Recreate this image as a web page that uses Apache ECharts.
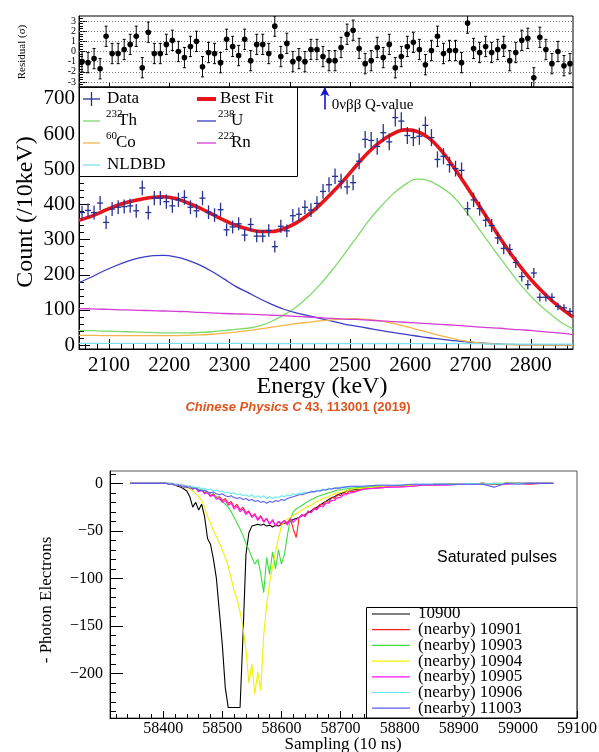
<!DOCTYPE html>
<html>
<head>
<meta charset="utf-8">
<title>Background fit and saturated pulses</title>
<script src="https://cdn.jsdelivr.net/npm/echarts@6.0.0/dist/echarts.min.js"></script>
<style>html,body{margin:0;padding:0;background:#fff;}#chart{width:599px;height:752px;}</style>
</head>
<body>
<div id="chart"></div>
<script>
// ================= TOP FIGURE : energy spectrum fit =================
// bin centres (keV) shared by data points and residuals
const binEnergy = [
  2055,2065,2075,2085,2095,2105,2115,2125,2135,2145,
  2155,2165,2175,2185,2195,2205,2215,2225,2235,2245,
  2255,2265,2275,2285,2295,2305,2315,2325,2335,2345,
  2355,2365,2375,2385,2395,2405,2415,2425,2435,2445,
  2455,2465,2475,2485,2495,2505,2515,2525,2535,2545,
  2555,2565,2575,2585,2595,2605,2615,2625,2635,2645,
  2655,2665,2675,2685,2695,2705,2715,2725,2735,2745,
  2755,2765,2775,2785,2795,2805,2815,2825,2835,2845,
  2855,2865];
const dataCount = [
  377,383,377,404,349,387,392,394,396,382,
  447,377,418,418,408,396,413,420,392,382,
  418,378,370,385,328,336,345,313,343,310,
  310,326,280,338,325,368,372,392,384,403,
  437,456,480,466,450,462,523,585,582,565,
  604,578,647,637,596,590,594,625,590,528,
  537,513,502,497,388,413,388,355,340,305,
  275,272,235,195,172,205,136,136,136,110,
  106,96];
const residual = [
  -1.0,-1.1,-0.7,-1.7,1.5,-0.2,-0.2,0.2,0.7,1.5,
  -1.6,1.9,-0.2,-0.2,0.7,1.1,0.0,-0.6,0.5,1.0,
  -1.5,-0.1,-0.2,-1.1,1.2,0.5,-0.4,1.2,-0.9,0.7,
  0.7,-0.2,2.5,-0.5,0.8,-1.0,-0.7,-1.0,0.2,0.2,
  -0.5,-0.9,-0.9,0.4,1.7,2.1,0.3,-1.2,-0.9,0.4,
  -0.6,0.7,-1.6,-0.5,0.5,0.9,0.2,-1.3,0.1,1.5,
  -0.2,0.1,0.1,-1.1,2.8,0.3,-0.1,0.5,-0.1,0.2,
  0.5,-0.9,-0.1,1.1,1.3,-2.6,1.4,0.2,-1.2,0.0,
  -1.4,-1.2];

// fit curves sampled every 20 keV
const fitEnergy = [2050,2070,2090,2110,2130,2150,2170,2190,2210,2230,2250,2270,2290,2310,2330,2350,2370,2390,2410,2430,2450,2470,2490,2510,2530,2550,2570,2590,2610,2630,2650,2670,2690,2710,2730,2750,2770,2790,2810,2830,2850,2870];
const bestFit = [355,366,381,395,406,414,420,422,417,405,390,373,356,341,330,323,323,331,347,370,399,433,470,510,548,578,600,612,608,590,556,511,460,408,355,302,252,207,168,134,105,80];
const th232  = [42,41,40,39,38,37,36,35,35,35,36,38,41,45,48,55,68,86,108,137,172,213,258,304,352,392,428,455,472,468,450,425,385,340,292,246,200,158,122,92,65,46];
const u238   = [178,193,210,225,238,248,254,255,251,242,228,210,189,167,150,132,116,102,92,84,76,68,60,54,48,42,36,31,26,21,17,13,10,7,5,3,2,1,1,0,0,0];
const co60   = [28,28,27,27,27,27,27,27,27,28,29,31,34,37,41,46,51,56,61,65,69,72,74,75,73,69,62,54,45,36,27,19,12,7,4,2,1,1,0,0,0,0];
const rn222  = [104,103,102,101,100,99,98,97,96,95,93,92,90,89,88,87,85,84,82,80,78,76,74,73,71,69,67,65,63,61,59,57,55,52,50,48,45,43,40,37,34,30];
const nldbd  = [5,5,5,5,5,5,5,5,5,5,5,5,5,5,5,4,4,4,4,4,4,4,4,4,4,4,4,4,4,4,4,4,4,4,3,3,3,3,3,3,3,3];

const energyTicks = [2100,2200,2300,2400,2500,2600,2700,2800];
const countTicks = [0,100,200,300,400,500,600,700];
const residualTicks = [-3,-2,-1,0,1,2,3];
const qValueEnergy = 2458;
const qArrow = [670, 733];

// ================= BOTTOM FIGURE : saturated pulses =================
const pulseSample = [58344,
  58400,58405,58410,58415,58420,58425,58430,58435,58440,58445,58450,58455,58460,58465,58470,
  58475,58480,58485,58490,58495,58500,58505,58510,58515,58520,58525,58530,58535,58540,58545,
  58550,58555,58560,58565,58570,58575,58580,58585,58590,58595,58600,58605,58610,58615,58620,
  58625,58630,58635,58640,58645,58650,58655,58660,58665,58670,58675,58680,58685,58690,58695,
  58700,58705,58710,58715,58720,
  58740,58760,58780,58800,58820,58840,58860,58880,58900,58920,58940,58960,58980,59000,59020,59040,59060];
const pulse10900 = [0,
  0,0,-1,-1,-2, -3,-4,-6,-8,-14, -25,-20,-28,-22,-35, -58,-64,-80,-100,-135,
  -170,-215,-236,-236,-236, -236,-236,-160,-75,-52, -45,-44,-43,-44,-43, -45,-44,-46,-44,-45,
  -43,-42,-41,-40,-38, -37,-36,-34,-33,-31, -29,-27,-25,-23,-21, -19,-17,-15,-14,-12, -11,-10,-8,-7,-7,
  -5,-4,-3,-3,-2,-2,-1,-1,-1,-1,0,-1,0,0,0,0,0];
const pulse10901 = [0,
  0,0,0,-1,-1, -2,-1,-3,-4,-3, -6,-5,-8,-7,-10, -9,-13,-11,-15,-14,
  -18,-16,-21,-19,-25, -22,-28,-25,-31,-29, -35,-32,-38,-34,-40, -37,-43,-39,-45,-40,
  -44,-39,-42,-37,-48, -57,-36,-33,-35,-29, -31,-26,-27,-22,-23, -19,-20,-15,-16,-12, -13,-10,-11,-8,-9,
  -6,-5,-4,-3,-3,-2,-2,-1,-1,-1,0,-1,0,0,-1,0,0];
const pulse10903 = [0,
  0,0,0,0,-1, -1,-2,-2,-3,-3, -4,-5,-6,-7,-8, -10,-11,-13,-14,-17,
  -19,-22,-25,-30,-36, -42,-48,-55,-63,-70, -78,-85,-80,-95,-115, -78,-96,-72,-90,-70,
  -85,-75,-55,-38,-30, -27,-25,-23,-21,-19, -17,-16,-14,-13,-12, -11,-10,-9,-8,-7, -7,-6,-6,-5,-5,
  -4,-3,-3,-2,-2,-2,-1,-1,-1,-1,0,-1,0,0,0,0,0];
const pulse10904 = [0,
  0,0,-1,-1,-2, -2,-3,-4,-5,-6, -8,-11,-14,-18,-25, -35,-42,-50,-56,-63,
  -70,-78,-87,-100,-113, -122,-135,-152,-175,-210, -190,-222,-198,-218,-160, -128,-105,-88,-72,-58,
  -45,-40,-38,-36,-34, -32,-30,-28,-26,-24, -23,-21,-19,-18,-16, -15,-14,-12,-11,-10, -9,-8,-8,-7,-6,
  -5,-4,-3,-3,-2,-2,-2,-1,-1,-1,-1,0,0,0,0,0,0];
const pulse10905 = [0,
  0,0,-1,0,-2, -1,-3,-2,-4,-3, -6,-5,-9,-7,-11, -10,-14,-12,-17,-15,
  -20,-18,-23,-21,-27, -24,-30,-27,-33,-30, -36,-33,-39,-35,-41, -37,-43,-38,-45,-40,
  -42,-39,-44,-37,-41, -38,-36,-33,-35,-30, -31,-27,-28,-24,-25, -21,-21,-18,-18,-15, -15,-12,-12,-10,-10,
  -6,-5,-4,-4,-3,-2,-2,-2,-1,-1,-1,0,-1,0,0,0,0];
const pulse10906 = [0,
  0,0,0,-1,-1, -2,-1,-3,-2,-4, -3,-5,-4,-6,-5, -7,-6,-8,-7,-9,
  -8,-10,-9,-11,-10, -12,-11,-13,-12,-14, -12,-15,-13,-15,-13, -16,-14,-16,-14,-15,
  -13,-14,-12,-13,-11, -12,-10,-11,-9,-10, -8,-9,-7,-8,-6, -7,-5,-6,-5,-5, -4,-4,-3,-4,-3,
  -3,-2,-2,-2,-1,-1,-1,-1,-1,0,-1,0,0,0,0,0,0];
const pulse11003 = [0,
  0,0,-1,-1,-2, -2,-3,-4,-4,-5, -6,-5,-7,-8,-7, -9,-10,-9,-11,-12,
  -11,-13,-14,-13,-15, -16,-15,-17,-16,-18, -17,-19,-18,-20,-19, -21,-19,-20,-18,-19,
  -17,-18,-16,-15,-14, -13,-12,-12,-11,-10, -9,-9,-8,-8,-7, -7,-6,-6,-5,-5, -5,-4,-4,-3,-3,
  -3,-2,-2,-2,-1,-1,-1,-1,-1,-1,-1,-4,0,-1,0,0,0];
const pulseNames = ['10900','(nearby) 10901','(nearby) 10903','(nearby) 10904','(nearby) 10905','(nearby) 10906','(nearby) 11003'];
const pulseValues = [pulse10900,pulse10901,pulse10903,pulse10904,pulse10905,pulse10906,pulse11003];
const sampleTicks = [58400,58500,58600,58700,58800,58900,59000,59100];
const peTicks = [0,-50,-100,-150,-200];

// ---------------- styling helpers ----------------
const SERIF = '"Liberation Serif","Times New Roman",serif';
const SANS = '"Liberation Sans",Arial,sans-serif';
const pulseColors = ['#000000','#ff1f1f','#3ddc3d','#f2f000','#ff10ff','#66eaf0','#5c5cf0'];
const compColors = {th:'#7fda6c', u:'#3c3cc8', co:'#f3b54a', rn:'#d43cd4', nl:'#7fe0ee', fit:'#e8141c', data:'#27318f'};

function seq(a, b, step){ const out=[]; for(let v=a; v<=b+1e-9; v+=step) out.push(Math.round(v*1000)/1000); return out; }
const energyMinor = seq(2060, 2860, 20);
const countMinor = seq(0, 720, 20);
const residualMinor = seq(-3.25, 3.25, 0.25);
const sampleMinor = seq(58320, 59100, 20);
const peMinor = seq(-240, 10, 10);
const zip = (xs, ys) => xs.map((x,i)=>[x, ys[i]]);
const plain = v => String(v);

function xAxisDef(grid, min, max, ticks, len, label, extra){
  return Object.assign({
    gridIndex: grid, type:'value', min, max, position:'bottom',
    axisLine:{show:true, onZero:false, lineStyle:{color:'#000', width:1}},
    axisTick:{show:true, inside:true, length:len, customValues:ticks, lineStyle:{color:'#000', width:1}},
    axisLabel: label ? Object.assign({show:true, customValues:ticks, color:'#000', fontFamily:SERIF, formatter:plain}, label) : {show:false},
    splitLine:{show:false}
  }, extra||{});
}
function yAxisDef(grid, min, max, ticks, len, label, extra){
  return Object.assign({
    gridIndex: grid, type:'value', min, max, position:'left',
    axisLine:{show:true, onZero:false, lineStyle:{color:'#000', width:1}},
    axisTick:{show:true, inside:true, length:len, customValues:ticks, lineStyle:{color:'#000', width:1}},
    axisLabel: label ? Object.assign({show:true, customValues:ticks, color:'#000', fontFamily:SERIF, formatter:plain}, label) : {show:false},
    splitLine:{show:false}
  }, extra||{});
}

const chart = echarts.init(document.getElementById('chart'), null, {renderer:'canvas'});

const series = [];
// residual points
series.push({
  type:'custom', name:'Residual', xAxisIndex:0, yAxisIndex:0, clip:true, z:5,
  data: zip(binEnergy, residual),
  renderItem:(params, api)=>{
    const x = api.value(0), y = api.value(1);
    const c = api.coord([x,y]), t = api.coord([x,y+1]), b = api.coord([x,y-1]);
    return {type:'group', children:[
      {type:'line', shape:{x1:c[0],y1:t[1],x2:c[0],y2:b[1]}, style:{stroke:'#000',lineWidth:1}},
      {type:'line', shape:{x1:c[0]-1.5,y1:t[1],x2:c[0]+1.5,y2:t[1]}, style:{stroke:'#000',lineWidth:1}},
      {type:'line', shape:{x1:c[0]-1.5,y1:b[1],x2:c[0]+1.5,y2:b[1]}, style:{stroke:'#000',lineWidth:1}},
      {type:'circle', shape:{cx:c[0],cy:c[1],r:2.8}, style:{fill:'#000'}}
    ]};
  }
});
// dotted residual grid lines
series.push({
  type:'line', name:'residual-grid', xAxisIndex:0, yAxisIndex:0, data:[], silent:true,
  markLine:{silent:true, symbol:'none', animation:false, label:{show:false},
    lineStyle:{color:'#777', type:[1,2], width:1},
    data: residualTicks.map(v=>({yAxis:v}))}
});
// components
const comps = [
  ['232Th', th232, compColors.th],
  ['238U', u238, compColors.u],
  ['60Co', co60, compColors.co],
  ['222Rn', rn222, compColors.rn],
  ['NLDBD', nldbd, compColors.nl]
];
comps.forEach(([name, vals, col])=>{
  series.push({type:'line', name, xAxisIndex:1, yAxisIndex:2, data:zip(fitEnergy, vals),
    showSymbol:false, smooth:0.35, clip:true, z:2, lineStyle:{color:col, width:1.3}});
});
series.push({type:'line', name:'Best Fit', xAxisIndex:1, yAxisIndex:2, data:zip(fitEnergy, bestFit),
  showSymbol:false, smooth:0.35, clip:true, z:3, lineStyle:{color:compColors.fit, width:3.6},
  markLine:{silent:true, animation:false, symbol:['none','arrow'], symbolSize:[7,9], label:{show:false},
    lineStyle:{color:'#1414d0', width:1.6, type:'solid'},
    data:[[{coord:[qValueEnergy, qArrow[0]]},{coord:[qValueEnergy, qArrow[1]]}]]}
});
// data crosses
series.push({
  type:'custom', name:'Data', xAxisIndex:1, yAxisIndex:2, clip:true, z:6,
  data: zip(binEnergy, dataCount),
  renderItem:(params, api)=>{
    const x = api.value(0), y = api.value(1), e = Math.sqrt(y);
    const l = api.coord([x-5,y]), r = api.coord([x+5,y]), t = api.coord([x,y+e]), b = api.coord([x,y-e]);
    return {type:'group', children:[
      {type:'line', shape:{x1:l[0],y1:l[1],x2:r[0],y2:r[1]}, style:{stroke:compColors.data,lineWidth:1.3}},
      {type:'line', shape:{x1:t[0],y1:t[1],x2:b[0],y2:b[1]}, style:{stroke:compColors.data,lineWidth:1.3}}
    ]};
  }
});
// pulses
pulseValues.forEach((vals, i)=>{
  series.push({type:'line', name:pulseNames[i], xAxisIndex:3, yAxisIndex:4, data:zip(pulseSample, vals),
    showSymbol:false, clip:true, z:2+i*0.01, lineStyle:{color:pulseColors[i], width:1.1}});
});

const peFmt = v => v < 0 ? '\u2212' + (-v) : String(v);

chart.setOption({
  animation:false,
  backgroundColor:'#ffffff',
  grid:[
    {left:79, top:16, width:494, height:71, show:true, borderColor:'#000', borderWidth:1, backgroundColor:'transparent', containLabel:false, outerBoundsMode:'none'},
    {left:79, top:87, width:494, height:262, show:true, borderColor:'#000', borderWidth:1, backgroundColor:'transparent', containLabel:false, outerBoundsMode:'none'},
    {left:110, top:471, width:467, height:247, show:true, borderColor:'#555', borderWidth:1, backgroundColor:'transparent', containLabel:false, outerBoundsMode:'none'}
  ],
  xAxis:[
    xAxisDef(0, 2050, 2870, energyTicks, 5, null),
    xAxisDef(1, 2050, 2870, energyTicks, 10, {fontSize:21, margin:6}),
    xAxisDef(1, 2050, 2870, energyMinor, 5, null, {axisLine:{show:false, onZero:false}}),
    xAxisDef(2, 58310, 59100, sampleTicks, 7, {fontSize:16, margin:3}),
    xAxisDef(2, 58310, 59100, sampleMinor, 4, null, {axisLine:{show:false, onZero:false}})
  ],
  yAxis:[
    yAxisDef(0, -3.5, 3.5, residualTicks, 8, {fontSize:10, margin:3}),
    yAxisDef(0, -3.5, 3.5, residualMinor, 4, null, {axisLine:{show:false, onZero:false}}),
    yAxisDef(1, -11, 734, countTicks, 11, {fontSize:21, margin:4}),
    yAxisDef(1, -11, 734, countMinor, 5, null, {axisLine:{show:false, onZero:false}}),
    yAxisDef(2, -247, 13, peTicks, 13, {fontSize:16, margin:7, formatter:peFmt}),
    yAxisDef(2, -247, 13, peMinor, 6, null, {axisLine:{show:false, onZero:false}})
  ],
  series
});

// ---------------- graphic overlays (legends, titles) ----------------
function txt(x, y, text, font, opt){
  opt = opt || {};
  return {type:'text', x, y, rotation:opt.rot||0, z:100, silent:true,
    style:{text, font, fill:opt.fill||'#000', textAlign:opt.align||'center', textVerticalAlign:'middle'}};
}
function seg(x1,y1,x2,y2,color,w){
  return {type:'line', z:100, silent:true, shape:{x1,y1,x2,y2}, style:{stroke:color, lineWidth:w||1.2}};
}
const qpx = chart.convertToPixel({xAxisIndex:1, yAxisIndex:2}, [qValueEnergy, 684]);
const g = [];
// main legend
g.push({type:'rect', z:90, silent:true, shape:{x:79.5, y:87.5, width:218, height:89}, style:{fill:'#fff', stroke:'#000', lineWidth:1}});
g.push(seg(83,99,100,99,compColors.data,1.3), seg(91.5,92,91.5,106,compColors.data,1.3));
g.push(txt(107,99,'Data','17px '+SERIF,{align:'left'}));
g.push(seg(83,121,100,121,compColors.th,1.3));
g.push(txt(106,114,'232','11px '+SERIF,{align:'left'}), txt(118,121,'Th','17px '+SERIF,{align:'left'}));
g.push(seg(83,143,100,143,compColors.co,1.3));
g.push(txt(106,136,'60','11px '+SERIF,{align:'left'}), txt(116,143,'Co','17px '+SERIF,{align:'left'}));
g.push(seg(83,165,100,165,compColors.nl,1.3));
g.push(txt(107,165,'NLDBD','17px '+SERIF,{align:'left'}));
g.push(seg(197,99,216,99,compColors.fit,4));
g.push(txt(220,99,'Best Fit','17px '+SERIF,{align:'left'}));
g.push(seg(197,121,216,121,compColors.u,1.3));
g.push(txt(218,114,'238','11px '+SERIF,{align:'left'}), txt(231,121,'U','17px '+SERIF,{align:'left'}));
g.push(seg(197,143,216,143,compColors.rn,1.3));
g.push(txt(218,136,'222','11px '+SERIF,{align:'left'}), txt(231,143,'Rn','17px '+SERIF,{align:'left'}));
// Q-value label
g.push(txt(qpx[0]+7, qpx[1], '0\u03bd\u03b2\u03b2 Q-value', '15px '+SERIF, {align:'left'}));
// axis titles
g.push(txt(22, 52, 'Residual (\u03c3)', '11px '+SERIF, {rot:Math.PI/2}));
g.push(txt(26, 212, 'Count (/10keV)', '24px '+SERIF, {rot:Math.PI/2}));
g.push(txt(322, 387, 'Energy (keV)', '24px '+SERIF));
// caption
g.push({type:'text', x:298, y:407, z:100, silent:true, style:{
  text:'{i|Chinese Physics C} {b|43, 113001 (2019)}', textAlign:'center', textVerticalAlign:'middle',
  rich:{i:{font:'italic bold 13px '+SANS, fill:'#e0541e'}, b:{font:'bold 13px '+SANS, fill:'#e0541e'}}}});
// bottom titles
g.push(txt(47, 600, '- Photon Electrons', '17px '+SERIF, {rot:Math.PI/2}));
g.push(txt(343, 745, 'Sampling (10 ns)', '17px '+SERIF));
g.push(txt(497, 558, 'Saturated pulses', '16px '+SANS));
// pulse legend
g.push({type:'rect', z:90, silent:true, shape:{x:366.5, y:607.5, width:210.5, height:110.5}, style:{fill:'#fff', stroke:'#000', lineWidth:1}});
pulseNames.forEach((n,i)=>{
  const y = 614 + i*15.7;
  g.push(seg(372, y, 410, y, pulseColors[i], 1.2));
  g.push(txt(418, y, n, '17px '+SERIF, {align:'left'}));
});
chart.setOption({graphic: g});
</script>
</body>
</html>
